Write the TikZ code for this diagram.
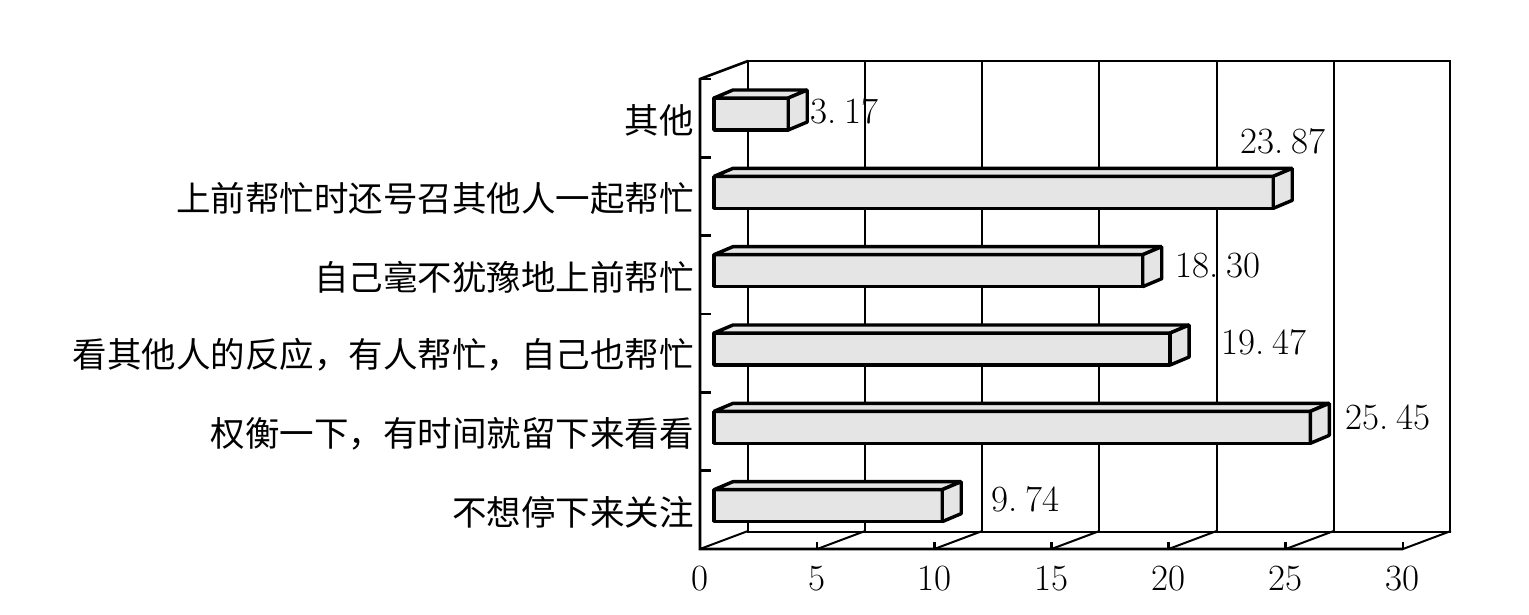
\documentclass[tikz,border=0pt]{standalone}
\usepackage{fontspec}
\newfontfamily\cjk{Noto Sans CJK SC}
\definecolor{barfill}{gray}{0.9}
\newcommand\gap{\hspace{.22em}}
\begin{document}
\begin{tikzpicture}[x=1pt,y=-1pt,
    gridline/.style={line width=2pt},
    axis/.style={line width=2.6pt},
    barface/.style={line width=3.4pt, fill=barfill, line join=bevel},
    cat/.style={anchor=east, inner sep=0pt, font=\cjk\fontsize{34.5}{40}\selectfont},
    val/.style={anchor=west, inner sep=0pt, font=\fontsize{37}{40}\selectfont},
    ticklab/.style={font=\fontsize{37}{40}\selectfont}]
  \useasboundingbox (0,0) rectangle (1529,614);
  \def\u{23.43}   % px per unit
  \def\band{78.33}
  % back wall and grid
  \draw [gridline] (748,61) rectangle (1450,532);
  \foreach \k in {1,...,5}
    \draw [gridline] (748+\k*5*\u,61) -- (748+\k*5*\u,532);
  % floor
  \foreach \k in {0,...,6}
    \draw [gridline] (700+\k*5*\u,549) -- ++(48,-18);
  \coordinate (O) at (700,549);
  \draw [axis] (748,61) -- (700,79) coordinate (T) -- (O) -- (1403,549);
  \foreach \k in {1,...,6}
    \draw [axis] (700+\k*5*\u,549) -- ++(0,-7);
  \foreach \j in {0,...,5}
    \draw [axis] (700,79+\j*\band) -- ++(11,0);
  \foreach \k [evaluate=\k as \lab using int(5*\k)] in {0,...,6}
    \node [ticklab] (tick\k) at (700+\k*5*\u,579) {\lab};
  % bars
  \foreach \v/\txt/\vtxt/\lx/\ly [count=\i from 0] in
      {3.17/其他/3.\gap17/810/111,
       23.87/上前帮忙时还号召其他人一起帮忙/23.\gap87/1240/141,
       18.30/自己毫不犹豫地上前帮忙/18.\gap30/1175/266,
       19.47/看其他人的反应，有人帮忙，自己也帮忙/19.\gap47/1221/342,
       25.45/权衡一下，有时间就留下来看看/25.\gap45/1345/417,
       9.74/不想停下来关注/9.\gap74/991/499} {
    \pgfmathsetmacro\xa{714+\v*\u}
    \pgfmathsetmacro\ya{98+\i*\band}
    \draw [barface] (714,\ya) rectangle (\xa,\ya+32);
    \draw [barface] (714,\ya) -- ++(19,-8) -- (\xa+19,\ya-8) -- (\xa,\ya) -- cycle;
    \draw [barface] (\xa,\ya) -- (\xa+19,\ya-8) -- (\xa+19,\ya+24) -- (\xa,\ya+32) -- cycle;
    \node [cat] (cat\i) at (694,79+\i*\band+0.5*\band+2) {\txt};
    \node [val] (val\i) at (\lx,\ly) {\vtxt};
  }
\end{tikzpicture}
\end{document}
